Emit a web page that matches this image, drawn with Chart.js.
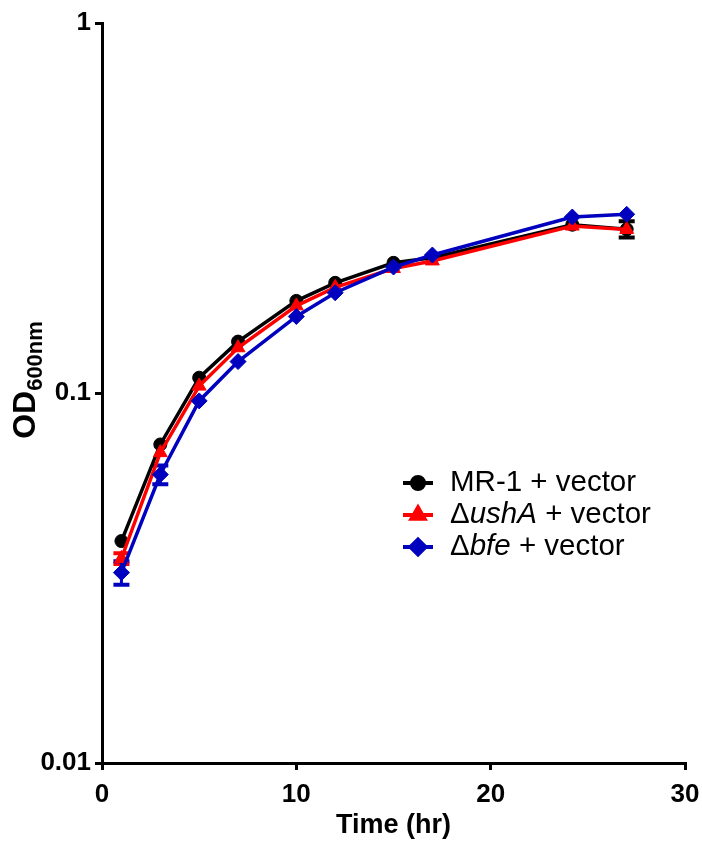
<!DOCTYPE html>
<html lang="en">
<head>
    <meta charset="UTF-8">
    <title>OD600 growth curves</title>
    <script src="https://cdn.jsdelivr.net/npm/chart.js"></script>
    <style>
        body {
            margin: 0;
            background: #fff;
        }
        canvas {
            display: block;
        }
    </style>
</head>
<body>

    <canvas id="growthChart" width="702" height="848"></canvas>

    <script>
        // Time points (hr)
        const timePoints = [1, 3, 5, 7, 10, 12, 15, 17, 24.2, 27];

        // OD600 values
        const mr1Values  = [0.0398, 0.0726, 0.110, 0.1377, 0.1774, 0.1985, 0.2248, 0.232, 0.285, 0.277];
        const ushAValues = [0.0357, 0.069, 0.1044, 0.1325, 0.172, 0.193, 0.217, 0.2275, 0.2826, 0.2766];
        const bfeValues  = [0.0327, 0.0602, 0.0952, 0.1216, 0.161, 0.1866, 0.219, 0.236, 0.299, 0.304];

        // error bars (+/-), 0 = hidden under the marker
        const mr1Errors  = [0, 0, 0, 0, 0, 0, 0, 0, 0, 0.014];
        const ushAErrors = [0.0012, 0, 0, 0, 0, 0, 0, 0, 0, 0];
        const bfeErrors  = [0.0024, 0.0035, 0, 0, 0, 0, 0, 0, 0, 0];

        // series names, *text* = italic
        const seriesNames = ['MR-1 + vector', 'Δ*ushA* + vector', 'Δ*bfe* + vector'];

        // axis ticks
        const xTicks = [0, 10, 20, 30];
        const yTicks = [0.01, 0.1, 1];
        const yTickLabels = ['0.01', '0.1', '1'];

        const FONT = "'Liberation Sans', Arial, sans-serif";

        function toPoints(values) {
            return values.map((v, i) => ({ x: timePoints[i], y: v }));
        }

        function makeDataset(i, values, errors, color, style, radius, order) {
            return {
                label: seriesNames[i].replace(/\*/g, ''),
                data: toPoints(values),
                errors: errors,
                borderColor: color,
                backgroundColor: color,
                borderWidth: 3.5,
                pointStyle: style,
                pointRadius: radius,
                pointBorderWidth: 1,
                pointHoverRadius: radius,
                tension: 0,
                order: order
            };
        }

        // Plugin: vertical error bars with caps
        const errorBars = {
            id: 'errorBars',
            beforeDatasetsDraw(chart) {
                const ctx = chart.ctx;
                const xs = chart.scales.x;
                const ys = chart.scales.y;
                chart.data.datasets.forEach(ds => {
                    ds.data.forEach((p, i) => {
                        const e = ds.errors[i];
                        if (!e) return;
                        const px = xs.getPixelForValue(p.x);
                        const top = ys.getPixelForValue(p.y + e);
                        const bot = ys.getPixelForValue(p.y - e);
                        ctx.save();
                        ctx.strokeStyle = ds.borderColor;
                        ctx.lineWidth = 3;
                        ctx.beginPath();
                        ctx.moveTo(px, top);
                        ctx.lineTo(px, bot);
                        ctx.stroke();
                        ctx.lineWidth = 4;
                        ctx.beginPath();
                        ctx.moveTo(px - 8, top);
                        ctx.lineTo(px + 8, top);
                        ctx.moveTo(px - 8, bot);
                        ctx.lineTo(px + 8, bot);
                        ctx.stroke();
                        ctx.restore();
                    });
                });
            }
        };

        // Plugin: y title with subscript, and the legend with italic parts
        const extraText = {
            id: 'extraText',
            afterDraw(chart) {
                const ctx = chart.ctx;

                // y axis title OD600nm
                ctx.save();
                ctx.fillStyle = '#000';
                const mainFont = 'bold 32px ' + FONT;
                const subFont = 'bold 22px ' + FONT;
                ctx.font = mainFont;
                const w1 = ctx.measureText('OD').width;
                ctx.font = subFont;
                const w2 = ctx.measureText('600nm').width;
                const centerY = 380;
                ctx.translate(35, centerY + (w1 + w2) / 2);
                ctx.rotate(-Math.PI / 2);
                ctx.textBaseline = 'alphabetic';
                ctx.textAlign = 'left';
                ctx.font = mainFont;
                ctx.fillText('OD', 0, 0);
                ctx.font = subFont;
                ctx.fillText('600nm', w1, 7);
                ctx.restore();

                // legend
                const rowY = [483, 515, 547];
                [0, 1, 2].forEach((di, r) => {
                    const ds = chart.data.datasets[di];
                    const y = rowY[r];
                    ctx.save();
                    ctx.strokeStyle = ds.borderColor;
                    ctx.lineWidth = 4;
                    ctx.beginPath();
                    ctx.moveTo(403, y);
                    ctx.lineTo(433, y);
                    ctx.stroke();
                    ctx.fillStyle = ds.backgroundColor;
                    Chart.helpers.drawPoint(ctx, {
                        pointStyle: ds.pointStyle,
                        radius: ds.pointRadius - 0.5,
                        rotation: 0,
                        borderWidth: 1
                    }, 418, y);
                    ctx.fillStyle = '#000';
                    ctx.textBaseline = 'middle';
                    ctx.textAlign = 'left';
                    let x = 450;
                    seriesNames[di].split('*').forEach((part, k) => {
                        if (!part) return;
                        ctx.font = (k % 2 ? 'italic ' : '') + '29.5px ' + FONT;
                        ctx.fillText(part, x, y);
                        x += ctx.measureText(part).width;
                    });
                    ctx.restore();
                });
            }
        };

        const ctx = document.getElementById('growthChart').getContext('2d');
        const growthChart = new Chart(ctx, {
            type: 'line',
            data: {
                datasets: [
                    makeDataset(0, mr1Values, mr1Errors, '#000000', 'circle', 6.5, 3),
                    makeDataset(1, ushAValues, ushAErrors, '#FF0000', 'triangle', 8, 2),
                    makeDataset(2, bfeValues, bfeErrors, '#0000BF', 'rectRot', 8, 1)
                ]
            },
            options: {
                responsive: false,
                animation: false,
                layout: {
                    padding: { top: 23, right: 17, bottom: 0, left: 0 }
                },
                plugins: {
                    legend: { display: false },
                    tooltip: { enabled: false }
                },
                scales: {
                    x: {
                        type: 'linear',
                        min: 0,
                        max: 30,
                        afterBuildTicks: s => { s.ticks = xTicks.map(v => ({ value: v })); },
                        afterFit: s => {
                            s.height = 85;
                            s.paddingLeft = 0;
                            s.paddingRight = 0;
                        },
                        ticks: {
                            color: '#000',
                            padding: 9,
                            font: { family: FONT, size: 26, weight: 'bold' }
                        },
                        grid: {
                            drawOnChartArea: false,
                            tickLength: 7,
                            lineWidth: 3,
                            color: '#000'
                        },
                        border: { color: '#000', width: 3 },
                        title: {
                            display: true,
                            text: 'Time (hr)',
                            color: '#000',
                            font: { family: FONT, size: 27, weight: 'bold' },
                            padding: { top: 0, bottom: 6 }
                        }
                    },
                    y: {
                        type: 'logarithmic',
                        min: 0.01,
                        max: 1,
                        afterBuildTicks: s => { s.ticks = yTicks.map(v => ({ value: v })); },
                        afterFit: s => {
                            s.width = 102;
                            s.paddingTop = 0;
                            s.paddingBottom = 0;
                        },
                        ticks: {
                            color: '#000',
                            padding: 4,
                            font: { family: FONT, size: 26, weight: 'bold' },
                            callback: (v, i) => yTickLabels[i]
                        },
                        grid: {
                            drawOnChartArea: false,
                            tickLength: 7,
                            lineWidth: 3,
                            color: '#000'
                        },
                        border: { color: '#000', width: 3 }
                    }
                }
            },
            plugins: [errorBars, extraText]
        });
    </script>

</body>
</html>
